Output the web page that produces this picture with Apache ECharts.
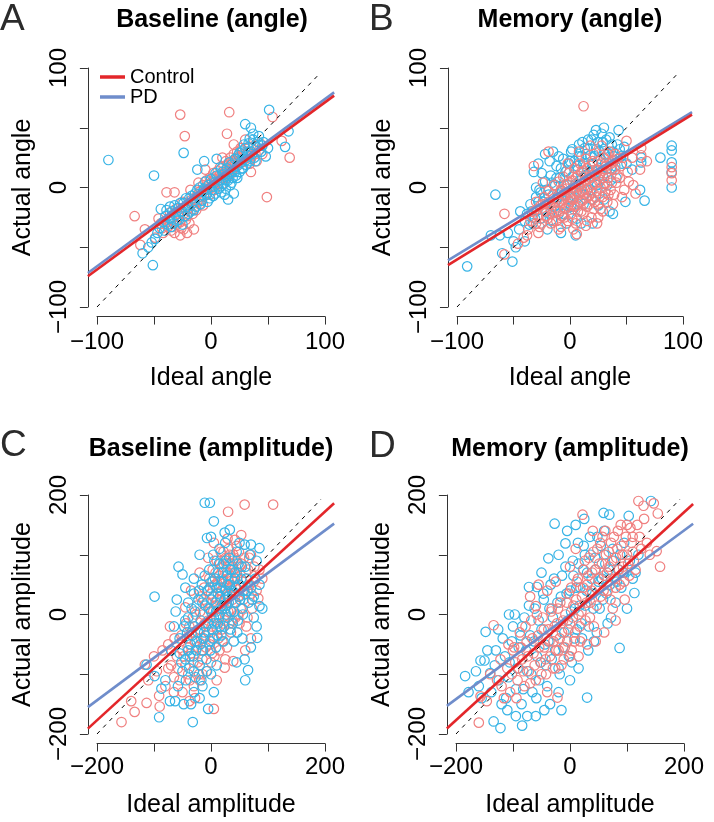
<!DOCTYPE html>
<html><head><meta charset="utf-8">
<script src="https://cdn.jsdelivr.net/npm/echarts@6/dist/echarts.min.js"></script>
<style>html,body{margin:0;padding:0;background:#fff}#c{width:714px;height:822px}</style>
</head><body><div id="c"></div>
<script>
const panelLetters = ['A', 'B', 'C', 'D'];
const panelTitles = ['Baseline (angle)', 'Memory (angle)', 'Baseline (amplitude)', 'Memory (amplitude)'];
const xNames = ['Ideal angle', 'Ideal angle', 'Ideal amplitude', 'Ideal amplitude'];
const yNames = ['Actual angle', 'Actual angle', 'Actual amplitude', 'Actual amplitude'];
const groupNames = ['Control', 'PD'];
const angleTicks = [-100, -50, 0, 50, 100];
const angleTickLabels = [-100, 0, 100];
const ampTicks = [-200, -100, 0, 100, 200];
const ampTickLabels = [-200, 0, 200];

// regression fits: [intercept, slope]
const fitControlA = [1.3, 0.70];
const fitPdA = [4.0, 0.70];
const fitControlB = [-2, 0.583];
const fitPdB = [1, 0.574];
const fitControlC = [-2.5, 0.873];
const fitPdC = [-1.5, 0.711];
const fitControlD = [-3, 0.870];
const fitPdD = [-0.5, 0.706];

// identity reference line ends
const identityAngle = [-100, 96];
const identityAmp = [-200, 193];

const controlA = [[-27,61],[16,63],[-23,43],[14,45],[-67,-24],[49,-8],[54,59],[62,39],[69,25],[-39,-4],[-32,-4],[-62,-48],[-49,-42],[-58,-35],
[-42,-38],[-38,-33],[-35,-36],[-33,-28],[-30,-31],[-28,-25],[-26,-34],[-24,-22],[-22,-27],[-20,-18],[-19,-30],[-17,-14],[-16,-22],[-14,-11],[-13,-19],[-12,-6],[-10,-14],[-9,-3],[-8,-10],[-7,2],[-6,-7],[-5,-1],[-4,6],[-3,-4],[-2,3],[-1,8],[0,0],[1,5],[2,12],[3,-2],[4,9],[5,4],[6,14],[7,6],[8,17],[9,10],[10,3],[11,18],[12,12],[13,22],[14,8],[15,20],[16,15],[17,25],[18,12],[19,22],[20,28],[21,17],[22,24],[23,30],[24,19],[25,26],[26,33],[27,21],[28,28],[30,24],[32,30],[34,20],[36,27],[38,35],[40,22],[42,31],[-36,-21],[-31,-18],[-25,-12],[-18,-2],[-11,4],[-15,-35],[-21,-38],[-27,-40],[-44,-30],[-46,-26],[45,28],[30,40],[20,36],[10,25],[-5,15],[35,13],
[-40,-30],[-37,-27],[-34,-33],[-29,-22],[-27,-29],[-23,-17],[-21,-24],[-18,-11],[-15,-18],[-12,-12],[-9,-8],[-7,-15],[-4,-2],[-1,-6],[1,1],[3,7],[6,3],[8,11],[10,8],[13,15],[15,11],[17,19],[19,15],[21,21],[23,25],[26,23],[28,31],[31,27],[33,34],[35,24],[39,28],[43,37],[-32,-38],[-43,-34],[-24,-35]];
const pdA = [[-90,23],[-50,10],[-24,29],[51,65],[68,47],[65,34],[30,53],[35,50],[37,45],[-51,-65],[-60,-55],[-52,-46],[-49,-43],[-44,-18],[-36,-16],[-55,-50],[-47,-38],
[-42,-29],[-40,-24],[-38,-31],[-36,-26],[-34,-20],[-33,-30],[-31,-23],[-29,-17],[-28,-27],[-26,-20],[-24,-13],[-23,-24],[-21,-16],[-19,-9],[-18,-20],[-16,-13],[-14,-5],[-13,-16],[-11,-8],[-10,0],[-8,-11],[-7,-3],[-5,5],[-4,-6],[-2,2],[-1,-9],[0,7],[1,-2],[3,4],[4,-5],[5,10],[6,1],[8,6],[9,-4],[10,13],[11,3],[12,9],[13,-1],[14,16],[15,6],[16,11],[17,2],[18,19],[19,8],[20,14],[21,24],[22,10],[23,18],[24,27],[25,13],[26,21],[27,30],[28,16],[29,24],[30,33],[31,19],[32,27],[33,37],[34,22],[35,30],[37,40],[38,25],[40,34],[42,43],[44,30],[46,38],[48,26],[-6,22],[-12,15],[5,24],[20,-5],[15,-10],[12,-6],
[-45,-34],[-41,-36],[-39,-19],[-35,-33],[-32,-15],[-30,-28],[-27,-13],[-25,-31],[-22,-9],[-20,-22],[-17,-7],[-15,-19],[-12,-2],[-9,-14],[-6,-1],[-3,-12],[2,-7],[4,12],[7,-1],[9,16],[11,11],[13,6],[16,21],[18,4],[21,13],[23,8],[25,29],[27,16],[29,36],[31,23],[34,41],[36,28],[39,22],[41,38],[45,35],[50,33]];

const controlB = [[12,68],[-58,-22],[-32,18],[-19,30],[6,-39],[56,2],[52,5],[63,33],[63,27],[50,39],[-58,-56],[-41,-42],[-46,-47],[90,17],[90,12],[90,6],[68,22],[62,15],[-37,-35],[-30,-30],[40,28],[45,18],[48,-2],[42,10],
[-35,-28],[-32,-20],[-30,-12],[-28,-24],[-26,-15],[-25,-30],[-23,-8],[-22,-20],[-20,-26],[-19,-3],[-18,-14],[-16,-22],[-15,-6],[-14,2],[-13,-17],[-12,-28],[-11,-10],[-10,5],[-9,-20],[-8,-2],[-7,-13],[-6,9],[-5,-25],[-4,-7],[-3,3],[-2,-16],[-1,12],[0,-4],[1,-22],[2,6],[3,-10],[4,16],[5,-30],[5,0],[6,-15],[7,10],[8,-6],[9,20],[10,-20],[10,3],[11,-11],[12,14],[13,-2],[14,24],[15,-16],[16,7],[17,-7],[18,18],[19,-25],[20,2],[21,28],[22,-12],[23,11],[24,-3],[25,22],[26,5],[27,-18],[28,14],[29,-8],[30,25],[31,3],[32,18],[33,-12],[34,8],[35,30],[36,-2],[37,15],[38,22],[39,-6],[41,4],[-17,-30],[-8,-33],[3,-35],[15,-28],[25,-25],[-24,4],[-2,20],[8,30],[18,35],[28,35],[-10,-35],[0,-12],[12,-5],[20,-10],[-5,-5],
[-33,-25],[-29,-18],[-27,-33],[-24,-14],[-21,-24],[-19,-12],[-17,-18],[-14,-9],[-12,-20],[-10,-12],[-9,-4],[-7,-24],[-6,-10],[-4,-18],[-3,-1],[-1,-14],[0,4],[1,-8],[2,-26],[3,-5],[4,-16],[5,8],[6,-4],[7,-20],[8,2],[9,-12],[10,13],[11,-3],[12,-22],[13,6],[14,-9],[15,16],[16,-1],[17,-14],[18,8],[19,-4],[20,22],[21,-18],[22,3],[23,-8],[24,15],[25,-14],[26,10],[27,0],[28,20],[29,-20],[30,8],[31,-4],[32,12],[33,28],[34,-6],[36,20],[37,4],[38,-14],[40,15],[42,24],[44,8],[46,-8],[-20,-14],[-15,-28],[-2,-28],[14,-32],[24,-30],[-38,-40],[-28,-38],[47,25],[51,13],[55,25],[58,-5]];
const pdB = [[-91,-66],[-66,-6],[-70,-40],[-62,-40],[-51,-62],[-60,-55],[90,35],[90,31],[90,21],[90,13],[90,0],[80,25],[66,-11],[49,-12],[38,-22],[63,25],[63,21],[30,50],[43,48],[-22,28],[-32,13],[-48,-50],[-40,-45],[-45,-35],[55,15],[62,-2],
[-38,-22],[-35,-14],[-33,-30],[-30,-8],[-29,-19],[-27,-2],[-26,-26],[-24,-12],[-22,5],[-21,-20],[-19,-6],[-17,10],[-16,-27],[-15,-13],[-13,2],[-12,18],[-11,-8],[-10,-22],[-9,8],[-7,-3],[-6,24],[-5,-14],[-4,13],[-3,-30],[-2,2],[-1,20],[0,-8],[1,30],[2,9],[3,-18],[4,22],[5,3],[6,-26],[7,15],[8,36],[9,-4],[10,26],[11,8],[12,-14],[13,33],[14,18],[15,-2],[16,40],[17,12],[18,27],[19,-10],[20,20],[21,44],[22,5],[23,32],[24,15],[25,38],[26,-5],[27,24],[28,45],[29,10],[30,32],[31,20],[32,40],[33,2],[34,28],[36,16],[37,36],[39,26],[41,8],[44,32],[46,20],[-20,-35],[-8,-38],[5,-40],[20,-30],[-28,20],[-15,30],
[-36,-31],[-34,-20],[-31,-26],[-28,-12],[-26,-4],[-23,-18],[-21,-2],[-18,-22],[-16,4],[-14,-16],[-12,8],[-10,-6],[-8,16],[-6,-22],[-5,2],[-3,14],[-2,-10],[0,22],[1,-16],[2,32],[3,0],[4,-8],[6,18],[7,-14],[8,26],[9,6],[11,38],[12,20],[13,-6],[14,28],[15,10],[16,32],[18,-2],[19,40],[20,14],[22,26],[23,48],[24,2],[26,30],[27,12],[29,38],[30,-10],[31,28],[33,16],[35,42],[36,6],[38,30],[40,18],[42,36],[45,26],[48,34],[50,20],[-25,12],[-18,22],[-10,26],[-30,0],[-40,-28],[-44,-20],[10,-30],[25,-15],[35,-20],[-50,-45],[-55,-38]];

const controlC = [[59,184],[109,184],[30,172],[29,127],[53,133],[-157,-180],[-134,-163],[-113,-148],[-116,-84],[-72,-20],[5,-158],[39,-78],[24,-89],[83,27],[-91,-136],[-90,-154],[-45,12],[-75,-50],[-60,-70],[75,55],[-100,-70],[-140,-145],[-28,-140],[-20,-110],
[-50,-60],[-45,-85],[-42,-40],[-40,-100],[-38,-20],[-35,-65],[-32,-5],[-30,-120],[-28,-45],[-25,15],[-23,-80],[-20,-25],[-18,30],[-16,-60],[-14,0],[-12,45],[-10,-35],[-8,-95],[-7,20],[-5,-10],[-3,60],[-2,-50],[0,35],[1,-20],[3,75],[4,5],[6,-70],[7,50],[9,-5],[10,90],[11,25],[13,-40],[14,65],[15,10],[17,105],[18,40],[19,-25],[20,80],[22,20],[23,55],[24,-10],[26,95],[27,35],[28,70],[30,5],[31,110],[32,48],[34,85],[35,-30],[36,60],[38,25],[39,100],[40,75],[42,45],[43,-5],[45,90],[46,62],[48,30],[50,80],[52,10],[55,55],[58,95],[60,35],[62,-20],[65,75],[68,50],[70,100],[72,10],[-15,-100],[0,-80],[15,-60],[25,-75],[-55,-110],[-65,-105],[-35,40],[-20,70],[5,120],[20,-45],[35,5],[50,-15],[45,115],
[-58,-90],[-52,-35],[-48,-70],[-44,-15],[-41,-55],[-37,-110],[-34,-30],[-31,-80],[-27,0],[-24,-55],[-21,-100],[-19,5],[-17,-40],[-15,-75],[-13,25],[-11,-15],[-9,-55],[-6,40],[-4,-30],[-1,10],[1,55],[2,-65],[4,30],[5,-40],[8,70],[9,15],[11,-25],[12,50],[14,-5],[16,85],[17,25],[19,60],[21,-15],[22,105],[24,45],[25,10],[27,85],[29,30],[30,60],[32,-15],[33,100],[35,45],[37,80],[38,-10],[40,55],[41,95],[43,20],[45,70],[47,0],[49,105],[51,45],[53,85],[57,25],[61,70],[64,-5],[67,95],[71,35],[76,80],[80,40],[-70,-85],[-80,-120],[-64,-40],[10,-110],[28,-55],[-5,95],[42,125],
[-85,-60],[-95,-95],[-110,-110],[-75,-90],[-65,-130],[-50,-130],[-38,-145],[60,-60],[70,-40],[85,75],[90,60]];
const pdC = [[-11,187],[-2,187],[5,156],[-7,128],[24,137],[33,142],[-99,30],[-57,80],[-50,67],[-60,25],[81,-39],[65,-93],[59,-75],[85,14],[59,117],[70,117],[85,111],[-32,-180],[-91,-172],[-72,-145],[-63,-145],[-5,-158],[-113,-84],[-99,-103],[-87,-124],[90,10],[80,90],[-80,-110],[-48,-150],[-40,-60],[-55,-40],
[-45,-75],[-42,-30],[-38,-90],[-36,-50],[-34,10],[-31,-70],[-29,-20],[-27,-105],[-25,-45],[-22,25],[-20,-85],[-18,-10],[-16,50],[-14,-60],[-12,-30],[-10,15],[-8,-75],[-6,40],[-5,-15],[-3,75],[-1,-45],[0,5],[2,-25],[3,55],[5,-5],[6,90],[8,20],[9,-55],[10,45],[12,-15],[13,70],[15,0],[16,30],[18,-35],[19,55],[20,10],[22,85],[23,-20],[25,40],[26,15],[28,65],[29,-5],[30,30],[32,95],[33,50],[35,5],[36,75],[38,-15],[40,35],[42,60],[44,20],[45,105],[47,-10],[49,50],[51,25],[54,80],[56,0],[58,40],[62,60],[66,20],[70,45],[75,-5],[-30,-130],[-15,-120],[0,-100],[10,-85],[-50,-95],[-20,100],[0,130],[15,110],[40,-45],[55,-40],
[-52,-80],[-47,-20],[-44,-110],[-40,-5],[-37,-70],[-33,-35],[-30,-95],[-28,5],[-26,-60],[-23,-30],[-21,40],[-19,-50],[-17,-110],[-15,20],[-13,-40],[-11,65],[-9,-20],[-7,-95],[-4,10],[-2,45],[-1,-60],[1,25],[3,-40],[4,100],[6,-15],[7,60],[9,5],[11,-35],[12,35],[14,85],[16,-20],[17,45],[19,15],[21,70],[22,-45],[24,25],[26,90],[27,0],[29,50],[31,20],[33,75],[34,-25],[36,40],[38,90],[40,5],[42,70],[44,45],[46,-30],[48,85],[50,30],[53,60],[55,10],[60,80],[64,40],[68,100],[72,25],[78,60],[-35,-150],[-58,-120],[-20,-140],[5,-130],[-45,45],[-30,60],[25,120],[50,120],
[-65,-20],[-62,5],[-55,-65],[-70,-60],[-45,-10],[75,30],[80,-20],[70,-55],[60,-110],[45,-80],[85,50],[-30,35],[-40,20]];

const controlD = [[22,167],[120,190],[129,182],[147,186],[154,169],[158,80],[152,106],[-134,-18],[-160,-181],[-146,-145],[-157,-137],[-22,-139],[-60,14],[100,150],[110,130],[-120,-120],[-140,-100],[-100,-60],[-90,-90],[140,100],
[-110,-90],[-105,-130],[-98,-55],[-92,-110],[-88,-30],[-84,-75],[-80,-120],[-76,-45],[-72,-95],[-68,-10],[-64,-65],[-60,-110],[-56,-35],[-52,-80],[-48,-5],[-45,-55],[-42,-100],[-38,-25],[-35,-70],[-32,10],[-29,-45],[-26,-90],[-23,-15],[-20,-60],[-17,20],[-14,-30],[-11,-75],[-8,0],[-5,-45],[-2,35],[0,-15],[3,-60],[6,15],[9,-30],[12,55],[15,0],[18,-45],[21,30],[24,75],[27,-10],[30,50],[33,95],[36,20],[39,70],[42,-20],[45,45],[48,110],[51,85],[54,30],[57,130],[60,65],[63,100],[66,40],[69,80],[72,120],[75,10],[78,60],[81,95],[84,140],[87,50],[90,115],[93,80],[96,25],[100,100],[104,65],[108,120],[112,90],[118,150],[125,110],[60,-30],[30,-50],[80,-10],[-70,30],[-40,40],[0,80],[40,140],
[-128,-110],[-122,-75],[-116,-140],[-108,-50],[-102,-100],[-96,-80],[-94,-140],[-86,-55],[-82,-95],[-78,-20],[-74,-70],[-70,-115],[-66,-40],[-62,-85],[-58,0],[-54,-55],[-50,-100],[-46,-25],[-43,-75],[-40,-130],[-36,-45],[-33,5],[-30,-90],[-27,-20],[-24,-60],[-21,10],[-18,-40],[-15,-85],[-12,-10],[-9,-55],[-6,20],[-3,-25],[0,-70],[2,45],[5,-5],[8,-45],[11,25],[14,60],[17,-20],[20,5],[23,45],[26,90],[29,20],[32,65],[35,-5],[38,40],[41,105],[44,75],[47,15],[50,60],[53,120],[56,85],[59,40],[62,140],[65,70],[68,105],[71,25],[74,90],[77,130],[80,45],[83,110],[86,75],[89,150],[92,100],[95,55],[98,130],[102,85],[106,145],[110,105],[115,75],[122,130],[130,160],[135,120],[45,-45],[15,-70],[-55,50],[-25,55],[10,110]];
const pdD = [[-184,-103],[-157,-77],[-150,-77],[-148,-29],[-140,-98],[-134,-179],[-122,-190],[-84,-186],[-27,152],[-38,94],[-8,119],[59,170],[69,167],[142,190],[103,165],[93,70],[113,36],[87,-56],[30,-139],[-72,46],[-58,46],[-107,0],[-84,-20],[-160,-120],[-110,-160],[60,140],
[-130,-60],[-125,-110],[-118,-40],[-112,-140],[-106,-80],[-100,-20],[-95,-125],[-90,-55],[-85,-150],[-80,-5],[-75,-95],[-70,-35],[-66,-130],[-62,10],[-58,-70],[-54,-110],[-50,-25],[-46,25],[-42,-85],[-38,-45],[-34,50],[-30,-5],[-26,-60],[-22,20],[-18,-100],[-14,65],[-10,-30],[-6,35],[-2,-70],[2,5],[5,90],[8,-40],[11,45],[14,120],[17,15],[20,-15],[23,75],[26,100],[29,40],[32,-60],[35,130],[38,60],[41,10],[44,95],[47,-30],[50,55],[54,115],[58,25],[62,85],[66,-15],[70,50],[75,110],[80,20],[85,75],[90,45],[95,120],[100,10],[110,60],[120,100],[-20,-130],[0,-110],[15,-90],[-45,-160],[-60,-170],[-95,-170],[10,150],[-5,140],
[-178,-130],[-165,-95],[-155,-140],[-145,-60],[-138,-130],[-132,-85],[-126,-25],[-120,-150],[-114,-70],[-108,-105],[-102,-45],[-97,0],[-92,-90],[-87,-35],[-82,-125],[-77,-60],[-72,15],[-68,-100],[-63,-45],[-59,-140],[-55,-10],[-51,-80],[-47,35],[-44,-50],[-40,-120],[-36,10],[-32,-75],[-28,60],[-24,-35],[-20,-90],[-16,30],[-12,-55],[-8,80],[-4,-10],[0,40],[3,-80],[6,65],[9,10],[12,-25],[15,85],[18,45],[21,-40],[24,115],[27,15],[30,70],[33,-20],[36,100],[39,35],[42,-45],[45,75],[48,130],[52,10],[56,60],[60,100],[64,35],[68,75],[72,-5],[77,90],[82,55],[88,100],[95,70],[105,90],[115,70],[-35,-150],[-15,-160],[-75,-170],[-50,70],[-20,100],[25,160]];

// ---------- build ----------
const FONT = "'Liberation Sans', Arial, sans-serif";
const COL_CTRL_PT = '#F08080';
const COL_PD_PT = '#38B4E6';
const COL_CTRL_LN = '#E3262A';
const COL_PD_LN = '#6F8DCB';

const panels = [
  { ctrl: controlA, pd: pdA, fc: fitControlA, fp: fitPdA, ticks: angleTicks, labels: angleTickLabels, ident: identityAngle,
    box: {left: 97, top: 68, width: 228, height: 239}, order: ['c', 'p'] },
  { ctrl: controlB, pd: pdB, fc: fitControlB, fp: fitPdB, ticks: angleTicks, labels: angleTickLabels, ident: identityAngle,
    box: {left: 457, top: 68, width: 226, height: 239}, order: ['p', 'c'] },
  { ctrl: controlC, pd: pdC, fc: fitControlC, fp: fitPdC, ticks: ampTicks, labels: ampTickLabels, ident: identityAmp,
    box: {left: 97, top: 495, width: 228, height: 239}, order: ['c', 'p'] },
  { ctrl: controlD, pd: pdD, fc: fitControlD, fp: fitPdD, ticks: ampTicks, labels: ampTickLabels, ident: identityAmp,
    box: {left: 456, top: 495, width: 228, height: 239}, order: ['p', 'c'] }
];

const fmt = v => (v < 0 ? '\u2212' + Math.abs(v) : String(v));

const grids = [], xAxes = [], yAxes = [], series = [];
const N = panels.length;
// data grids (R plot region = tick range extended by 4% each side)
panels.forEach((p, i) => {
  const b = p.box;
  grids.push({left: b.left - 0.04 * b.width, top: b.top - 0.04 * b.height, width: 1.08 * b.width, height: 1.08 * b.height, containLabel: false});
  const lo = p.ticks[0], hi = p.ticks[p.ticks.length - 1], ext = (hi - lo) * 0.04;
  const hidden = {show: false};
  xAxes.push({gridIndex: i, type: 'value', min: lo - ext, max: hi + ext, axisLine: hidden, axisTick: hidden, axisLabel: hidden, splitLine: hidden});
  yAxes.push({gridIndex: i, type: 'value', min: lo - ext, max: hi + ext, axisLine: hidden, axisTick: hidden, axisLabel: hidden, splitLine: hidden});

  const scat = (name, data, color) => ({
    type: 'scatter', name: name, xAxisIndex: i, yAxisIndex: i, data: data,
    symbol: 'circle', symbolSize: 9.5,
    itemStyle: {color: 'rgba(0,0,0,0)', borderColor: color, borderWidth: 1.2, opacity: 1},
    emphasis: {disabled: true}, silent: true, z: 2
  });
  p.order.forEach(o => {
    if (o === 'c') series.push(scat('Control trials', p.ctrl, COL_CTRL_PT));
    else series.push(scat('PD trials', p.pd, COL_PD_PT));
  });
  series.push({
    type: 'line', name: 'identity', xAxisIndex: i, yAxisIndex: i,
    data: [[p.ident[0], p.ident[0]], [p.ident[1], p.ident[1]]],
    showSymbol: false, symbol: 'none', silent: true,
    lineStyle: {color: '#000', width: 1, type: [4, 5]}, z: 3
  });
  const xl = lo - ext, xh = hi + ext;
  const fitLine = (name, f, color) => ({
    type: 'line', name: name, xAxisIndex: i, yAxisIndex: i,
    data: [[xl, f[0] + f[1] * xl], [xh, f[0] + f[1] * xh]],
    showSymbol: false, symbol: 'none', silent: true, color: color,
    itemStyle: {color: color},
    lineStyle: {color: color, width: 2.6}, z: 4
  });
  series.push(fitLine('PD', p.fp, COL_PD_LN));
  series.push(fitLine('Control', p.fc, COL_CTRL_LN));
});
// axis grids (R-style axes spanning only the tick range, offset to the plot-region edge)
panels.forEach((p, i) => {
  const b = p.box;
  grids.push({left: b.left, top: b.top, width: b.width, height: b.height, containLabel: false});
  const amp = p.ticks[p.ticks.length - 1] === 200;
  const common = {
    gridIndex: N + i, type: 'value', min: p.ticks[0], max: p.ticks[p.ticks.length - 1], interval: p.ticks[1] - p.ticks[0],
    splitLine: {show: false},
    axisLine: {show: true, onZero: false, lineStyle: {color: '#333', width: 1}},
    axisTick: {show: true, length: 8, lineStyle: {color: '#333', width: 1}},
    nameLocation: 'middle',
    nameTextStyle: {fontSize: 25, color: '#000', fontFamily: FONT}
  };
  xAxes.push(Object.assign({}, common, {
    position: 'bottom', offset: 0.04 * b.height, name: xNames[i], nameGap: 49,
    axisLabel: {margin: amp ? 12 : 14, fontSize: 24, color: '#000', fontFamily: FONT,
      formatter: v => (p.labels.indexOf(v) >= 0 ? fmt(v) : '')}
  }));
  yAxes.push(Object.assign({}, common, {
    position: 'left', offset: 0.04 * b.width, name: yNames[i], nameGap: 52,
    axisLabel: {margin: 17, rotate: 90, fontSize: 24, color: '#000', fontFamily: FONT,
      formatter: v => (p.labels.indexOf(v) >= 0 ? fmt(v) : '')}
  }));
});

const titleCenters = [[212, 8], [570, 8], [211, 437], [570, 437]];
const letterPos = [[0, 1], [369, 1], [0, 427], [369, 428]];
const graphics = [];
panels.forEach((p, i) => {
  graphics.push({type: 'text', x: titleCenters[i][0], y: titleCenters[i][1], silent: true,
    style: {text: panelTitles[i], font: 'bold 25px ' + FONT, fill: '#000', textAlign: 'center', textVerticalAlign: 'top'}});
  graphics.push({type: 'text', x: letterPos[i][0], y: letterPos[i][1], silent: true,
    style: {text: panelLetters[i], font: '37px ' + FONT, fill: '#2b2b2b', textAlign: 'left', textVerticalAlign: 'top'}});
});

const chart = echarts.init(document.getElementById('c'), null, {renderer: 'canvas'});
chart.setOption({
  animation: false,
  backgroundColor: '#fff',
  textStyle: {fontFamily: FONT},
  grid: grids, xAxis: xAxes, yAxis: yAxes, series: series,
  legend: {
    orient: 'vertical', left: 100, top: 67, padding: 0, itemGap: 0,
    itemWidth: 25, itemHeight: 3.5, selectedMode: false,
    textStyle: {fontSize: 20, color: '#000', fontFamily: FONT, lineHeight: 18},
    data: [{name: 'Control', icon: 'rect'}, {name: 'PD', icon: 'rect'}]
  },
  graphic: graphics
});
</script></body></html>
